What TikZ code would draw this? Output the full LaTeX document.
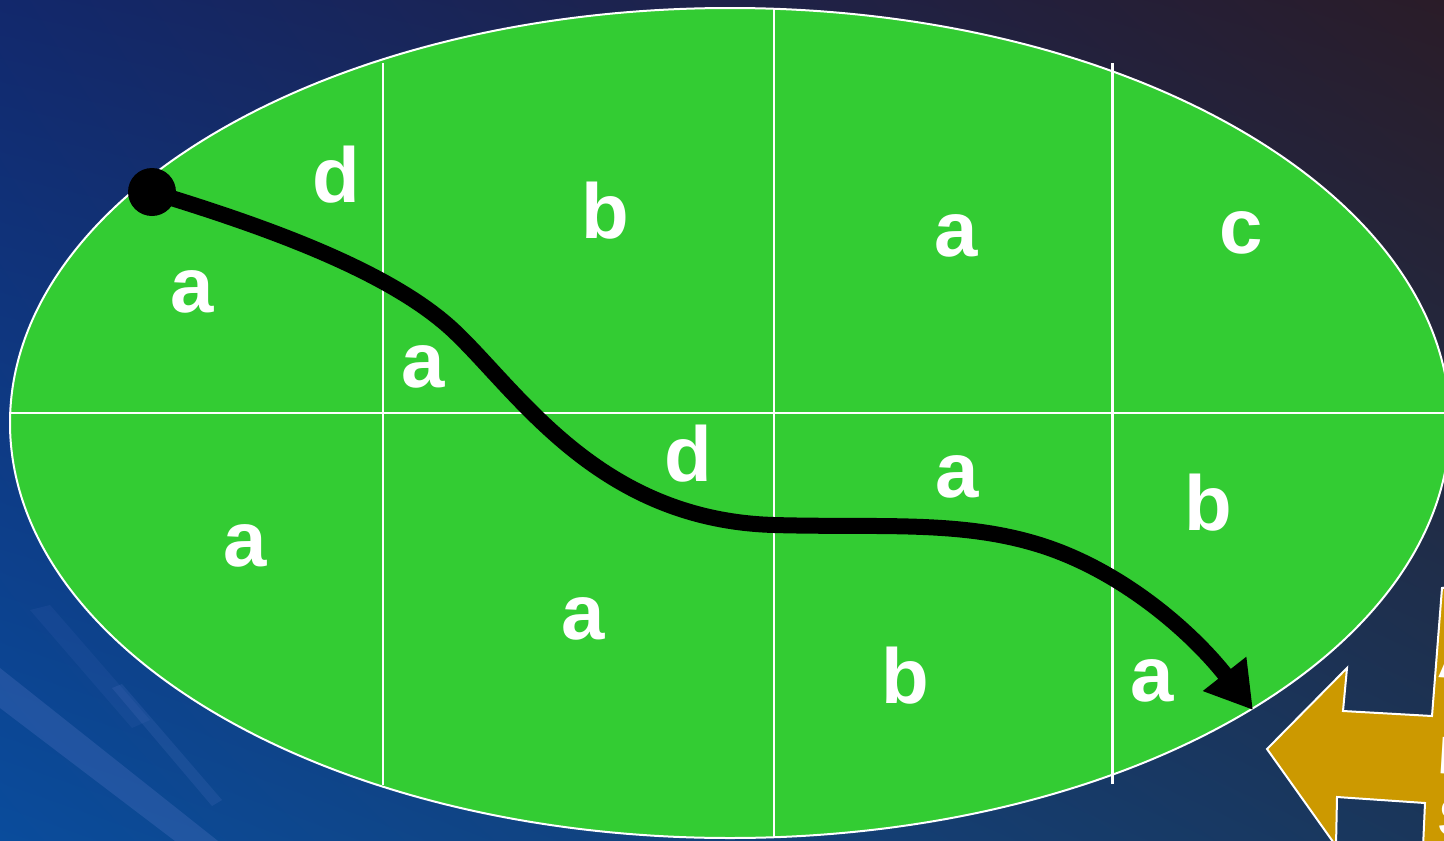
\documentclass[tikz,border=0pt]{standalone}
\usepackage{fontspec}
\setmainfont{Liberation Sans}
\usetikzlibrary{arrows.meta,shadings}
\definecolor{grn}{RGB}{51,204,51}
\definecolor{goldc}{RGB}{204,153,0}
\definecolor{bgUL}{RGB}{18,40,108}
\definecolor{bgUR}{RGB}{42,28,40}
\definecolor{bgLL}{RGB}{10,76,156}
\definecolor{bgLR}{RGB}{26,54,90}
\definecolor{streakc}{RGB}{120,140,220}
\begin{document}
\begin{tikzpicture}[x=1pt,y=-1pt,
  lbl/.style={text=white,font=\fontsize{78}{90}\selectfont\bfseries,anchor=base,inner sep=0pt},
  sidelbl/.style={text=white,font=\fontsize{53}{60}\selectfont\bfseries,anchor=base west,inner sep=0pt,rotate=-3.5},
  gridline/.style={white,line width=2.5pt},
  streak/.style={fill=streakc,opacity=0.2},
  pathline/.style={black,line width=16pt,-{Triangle[length=46pt,width=52pt]}}]
\useasboundingbox (0,0) rectangle (1444,841);
% background
\shade[upper left=bgUL, upper right=bgUR, lower left=bgLL, lower right=bgLR] (0,0) rectangle (1444,841);
\fill[streak] (0,668) -- (0,708) -- (175,841) -- (218,841) -- cycle;
\fill[streak,opacity=0.13] (112,688) -- (122,684) -- (222,800) -- (212,806) -- cycle;
\fill[streak,opacity=0.08] (30,610) -- (50,605) -- (150,720) -- (132,728) -- cycle;
% field
\begin{scope}
\clip (0,0) rectangle (1444,841);
\draw[white,line width=2pt,fill=grn] (730,423) ellipse [x radius=720, y radius=415];
\end{scope}
\coordinate (hl) at (10,413);
\coordinate (hr) at (1444,413);
\coordinate (v1t) at (383,63);
\coordinate (v1b) at (383,785);
\coordinate (v2t) at (774,8);
\coordinate (v2b) at (774,838);
\coordinate (v3t) at (1112,63);
\coordinate (v3b) at (1112,784);
\draw[gridline] (hl) -- (hr);
\draw[gridline] (v1t) -- (v1b);
\draw[gridline] (v2t) -- (v2b);
\draw[gridline,line width=3pt] (v3t) -- (v3b);
% letters
\node[lbl] (l1) at (336,202) {d};
\node[lbl] (l2) at (605,238) {b};
\node[lbl] (l3) at (956,256) {a};
\node[lbl] (l4) at (1241,253) {c};
\node[lbl] (l5) at (192,312) {a};
\node[lbl] (l6) at (423,387) {a};
\node[lbl] (l7) at (688,481) {d};
\node[lbl] (l8) at (957,497) {a};
\node[lbl] (l9) at (1208,530) {b};
\node[lbl] (l10) at (245,566) {a};
\node[lbl] (l11) at (583,639) {a};
\node[lbl] (l12) at (905,703) {b};
\node[lbl] (l13) at (1152,701) {a};
% path
\node[circle,fill=black,minimum size=48pt,inner sep=0pt] (start) at (152,192) {};
\coordinate (tip) at (1253,710);
\draw[pathline] (start.center)
  .. controls (260,225) and (390,270) .. (455,332)
  .. controls (520,394) and (600,520) .. (774,525)
  .. controls (880,528) and (960,520) .. (1040,545)
  .. controls (1120,570) and (1190,630) .. (tip);
% gold arrow at the edge
\begin{scope}
\clip (0,0) rectangle (1444,841);
\draw[white,line width=2pt,fill=goldc,line join=miter]
  (1470,584) -- (1442,588) -- (1432,716) -- (1343,711) -- (1347,668) -- (1267,749)
  -- (1336,846) -- (1337,797) -- (1425,803) -- (1422,870) -- (1470,870) -- cycle;
\node[sidelbl] (s1) at (1437,677) {A};
\node[sidelbl] (s2) at (1437,773) {B};
\node[sidelbl] (s3) at (1437,835) {S};
\end{scope}
\end{tikzpicture}
\end{document}
